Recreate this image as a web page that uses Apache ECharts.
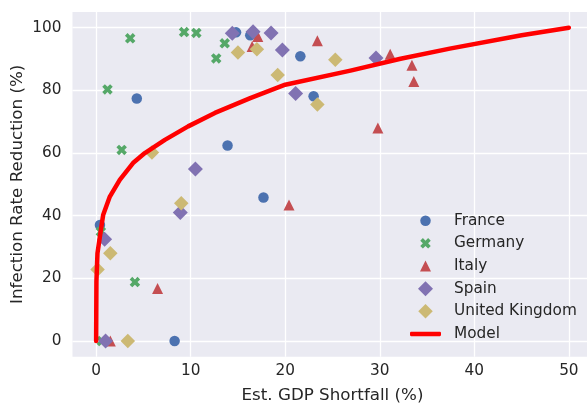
<!DOCTYPE html>
<html>
<head>
<meta charset="utf-8">
<script src="https://cdn.jsdelivr.net/npm/echarts@6/dist/echarts.min.js"></script>
<style>
  html, body { margin: 0; padding: 0; background: #fff; }
  #chart { width: 587px; height: 403px; }
</style>
</head>
<body>
<div id="chart"></div>
<script>
// est. GDP shortfall (%) -> infection rate reduction (%), per country
const franceX = [4.3, 0.4, 8.3, 13.9, 17.7, 21.6, 23.0, 14.8, 16.3];
const franceY = [77.4, 37.0, 0, 62.4, 45.8, 90.9, 78.1, 98.5, 97.6];

const germanyX = [3.6, 9.3, 10.6, 13.6, 12.7, 1.2, 2.7, 4.1, 0.5, 0.6];
const germanyY = [96.6, 98.6, 98.3, 95.0, 90.2, 80.3, 61.0, 18.8, 34.9, 0];

const italyX = [6.5, 1.5, 20.4, 29.8, 23.4, 31.1, 33.4, 33.6, 16.5, 17.1];
const italyY = [16.8, 0, 43.4, 68.0, 95.8, 91.5, 88.0, 82.8, 94.0, 97.2];

const spainX = [1.0, 0.9, 8.9, 10.5, 14.4, 16.6, 18.5, 19.7, 21.1, 29.6];
const spainY = [0, 32.5, 41.0, 54.9, 98.2, 98.7, 98.3, 92.9, 79.0, 90.3];

const ukX = [0.15, 1.5, 3.35, 9.0, 5.9, 15.0, 17.0, 19.2, 23.4, 25.3];
const ukY = [22.8, 28.0, 0, 44.0, 60.2, 92.1, 93.1, 84.9, 75.5, 89.8];

// model curve
const modelX = [0, 0.03, 0.14, 0.5, 0.74, 1.45, 2.5, 3.9, 5.15, 7.27, 9.73, 12.56, 16.3, 20, 26.9, 32.2, 37.4, 45, 50];
const modelY = [0, 19, 28, 35.4, 40.2, 46.1, 51.4, 56.8, 60, 64.2, 68.5, 72.8, 77.5, 81.8, 86.3, 90.1, 93.3, 97.6, 100];

const xTicks = [0, 10, 20, 30, 40, 50];
const yTicks = [0, 20, 40, 60, 80, 100];

const FONT = 'DejaVu Sans';
const TXT = '#262626';
// filled "X" like matplotlib's marker
const X_MARK = 'path://M0,2.5L2.5,0L5,2.5L7.5,0L10,2.5L7.5,5L10,7.5L7.5,10L5,7.5L2.5,10L0,7.5L2.5,5Z';

function pairs(xs, ys) {
  return xs.map((x, i) => [x, ys[i]]);
}

// name, xs, ys, symbol, size, colour
const groups = [
  ['France', franceX, franceY, 'circle', 10.5, '#4C72B0'],
  ['Germany', germanyX, germanyY, X_MARK, 10.5, '#55A868'],
  ['Italy', italyX, italyY, 'triangle', 11, '#C44E52'],
  ['Spain', spainX, spainY, 'diamond', 15, '#8172B2'],
  ['United Kingdom', ukX, ukY, 'diamond', 14.5, '#CCB974']
];

const series = groups.map(g => ({
  name: g[0],
  type: 'scatter',
  data: pairs(g[1], g[2]),
  symbol: g[3],
  symbolSize: g[4],
  itemStyle: { color: g[5], opacity: 1 }
}));
series.push({
  name: 'Model',
  type: 'line',
  data: pairs(modelX, modelY),
  symbol: 'none',
  smooth: false,
  lineStyle: { color: '#FF0000', width: 4.5, cap: 'round', join: 'round' },
  itemStyle: { color: '#FF0000' }
});

// one legend per row so each marker keeps its own size;
// marker centred at x=425.5, text starting at x=454
const rowTop = 220.7, rowGap = 22.65;
function legendText(padLeft) {
  return { fontFamily: FONT, fontSize: 15.3, color: TXT, lineHeight: 18, padding: [0, 0, 0, padLeft] };
}
const legends = groups.map((g, i) => ({
  data: [g[0]],
  left: 425.5 - g[4] / 2,
  top: rowTop + i * rowGap - 9,
  padding: 0,
  itemWidth: g[4],
  itemHeight: g[4],
  selectedMode: false,
  textStyle: legendText(454 - (425.5 + g[4] / 2 + 5))
}));
legends.push({
  data: [{ name: 'Model', icon: 'roundRect' }],
  left: 410,
  top: rowTop + 5 * rowGap - 9,
  padding: 0,
  itemWidth: 31,
  itemHeight: 4.6,
  selectedMode: false,
  textStyle: legendText(8)
});

const chart = echarts.init(document.getElementById('chart'));
chart.setOption({
  animation: false,
  backgroundColor: '#ffffff',
  textStyle: { fontFamily: FONT },
  grid: {
    left: 72.5, top: 12, width: 520, height: 344.7,
    outerBoundsMode: 'none',
    containLabel: false,
    show: true, backgroundColor: '#EAEAF2', borderWidth: 0
  },
  legend: legends,
  xAxis: {
    type: 'value',
    min: -2.5, max: 52.5,
    name: 'Est. GDP Shortfall (%)',
    nameLocation: 'middle',
    nameGap: 30,
    nameMoveOverlap: false,
    nameTextStyle: { fontFamily: FONT, fontSize: 16.7, color: TXT },
    axisLine: { show: false },
    axisTick: { show: false, customValues: xTicks },
    axisLabel: { customValues: xTicks, fontFamily: FONT, fontSize: 15.3, color: TXT, margin: 7 },
    splitLine: { show: true, lineStyle: { color: '#ffffff', width: 1.3 } }
  },
  yAxis: {
    type: 'value',
    min: -5, max: 105,
    name: 'Infection Rate Reduction (%)',
    nameLocation: 'middle',
    nameGap: 46,
    nameMoveOverlap: false,
    nameTextStyle: { fontFamily: FONT, fontSize: 16.7, color: TXT },
    axisLine: { show: false },
    axisTick: { show: false, customValues: yTicks },
    axisLabel: { customValues: yTicks, fontFamily: FONT, fontSize: 15.3, color: TXT, margin: 11 },
    splitLine: { show: true, lineStyle: { color: '#ffffff', width: 1.3 } }
  },
  series: series
});
</script>
</body>
</html>
